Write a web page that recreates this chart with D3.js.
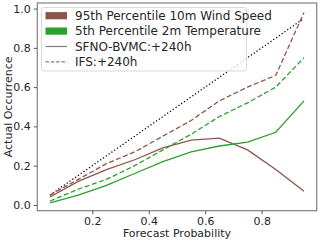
<!DOCTYPE html>
<html>
<head>
<meta charset="utf-8">
<script src="https://cdn.jsdelivr.net/npm/d3@7"></script>
<style>
  body { margin: 0; background: #fff; }
  text { font-family: "DejaVu Sans", sans-serif; fill: #262626; }
</style>
</head>
<body>
<svg width="320" height="243"></svg>
<script>
// forecast probability bins
var probs = [0.05, 0.15, 0.25, 0.35, 0.45, 0.55, 0.65, 0.75, 0.85, 0.95];
// 95th percentile 10m wind speed
var windSfno = [0.04, 0.12, 0.18, 0.23, 0.29, 0.33, 0.34, 0.28, 0.18, 0.07];
var windIfs  = [0.05, 0.13, 0.21, 0.27, 0.35, 0.43, 0.53, 0.60, 0.66, 0.98];
// 5th percentile 2m temperature
var tempSfno = [0.01, 0.05, 0.10, 0.16, 0.22, 0.27, 0.30, 0.32, 0.37, 0.53];
var tempIfs  = [0.02, 0.08, 0.13, 0.20, 0.28, 0.36, 0.45, 0.52, 0.60, 0.75];
var xTicks = [0.2, 0.4, 0.6, 0.8];
var yTicks = [0.0, 0.2, 0.4, 0.6, 0.8, 1.0];

var brown = "#8c564b", green = "#2ca02c";

var svg = d3.select("svg");
var pLeft = 37.3, pRight = 316.7, pTop = 3, pBottom = 210.7;

var x = d3.scaleLinear().domain([0.005, 0.995]).range([pLeft, pRight]);
var y = d3.scaleLinear().domain([-0.0295, 1.0285]).range([pBottom, pTop]);

var line = d3.line()
    .x(function(d) { return x(d[0]); })
    .y(function(d) { return y(d[1]); });

function zipped(vals) { return probs.map(function(p, i) { return [p, vals[i]]; }); }

var ends = [probs[0], probs[probs.length - 1]];
var series = [
  { pts: ends.map(function(p) { return [p, p]; }), color: "#000", dash: "1.2,2.2" },
  { pts: zipped(windIfs), color: brown, dash: "5,2.5" },
  { pts: zipped(windSfno), color: brown, dash: null },
  { pts: zipped(tempIfs), color: green, dash: "5,2.5" },
  { pts: zipped(tempSfno), color: green, dash: null }
];

var plot = svg.append("g");
series.forEach(function(s) {
  plot.append("path")
    .attr("d", line(s.pts))
    .attr("fill", "none")
    .attr("stroke", s.color)
    .attr("stroke-width", 1.3)
    .attr("stroke-dasharray", s.dash);
});

// axes
var xAxis = svg.append("g").attr("transform", "translate(0," + pBottom + ")")
  .call(d3.axisBottom(x).tickValues(xTicks).tickFormat(d3.format(".1f")).tickSize(3.5).tickPadding(3));
var yAxis = svg.append("g").attr("transform", "translate(" + pLeft + ",0)")
  .call(d3.axisLeft(y).tickValues(yTicks).tickFormat(d3.format(".1f")).tickSize(3.5).tickPadding(3));
[xAxis, yAxis].forEach(function(a) {
  a.select(".domain").remove();
  a.selectAll("line").attr("stroke", "#555");
  a.selectAll("text").style("font-size", "11px").style("fill", "#262626")
    .style("font-family", "DejaVu Sans, sans-serif");
});

// frame
svg.append("rect")
  .attr("x", pLeft).attr("y", pTop)
  .attr("width", pRight - pLeft).attr("height", pBottom - pTop)
  .attr("fill", "none").attr("stroke", "#808080").attr("stroke-width", 1.2);

svg.append("text")
  .attr("x", (pLeft + pRight) / 2).attr("y", 237)
  .attr("text-anchor", "middle").style("font-size", "11px")
  .text("Forecast Probability");
svg.append("text")
  .attr("transform", "translate(12," + ((pTop + pBottom) / 2) + ") rotate(-90)")
  .attr("text-anchor", "middle").style("font-size", "11px")
  .text("Actual Occurrence");

// legend
var legendItems = [
  { label: "95th Percentile 10m Wind Speed", type: "patch", color: brown },
  { label: "5th Percentile 2m Temperature", type: "patch", color: green },
  { label: "SFNO-BVMC:+240h", type: "line", dash: null },
  { label: "IFS:+240h", type: "line", dash: "3.5,1.8" }
];
var lg = svg.append("g");
lg.append("rect")
  .attr("x", 41.5).attr("y", 7.5).attr("width", 205).attr("height", 63.5)
  .attr("rx", 2.5).attr("fill", "#fff").attr("fill-opacity", 0.8)
  .attr("stroke", "#d9d9d9").attr("stroke-width", 1);
legendItems.forEach(function(d, i) {
  var cy = 15.7 + i * 15.4;
  if (d.type === "patch") {
    lg.append("rect").attr("x", 45.5).attr("y", cy - 3.6).attr("width", 21.5).attr("height", 7.2)
      .attr("fill", d.color);
  } else {
    lg.append("line").attr("x1", 45.5).attr("x2", 67).attr("y1", cy).attr("y2", cy)
      .attr("stroke", "#7f7f7f").attr("stroke-width", 1.2).attr("stroke-dasharray", d.dash);
  }
  lg.append("text").attr("x", 75).attr("y", cy).attr("dy", "0.35em")
    .style("font-size", "12px").text(d.label);
});
</script>
</body>
</html>
